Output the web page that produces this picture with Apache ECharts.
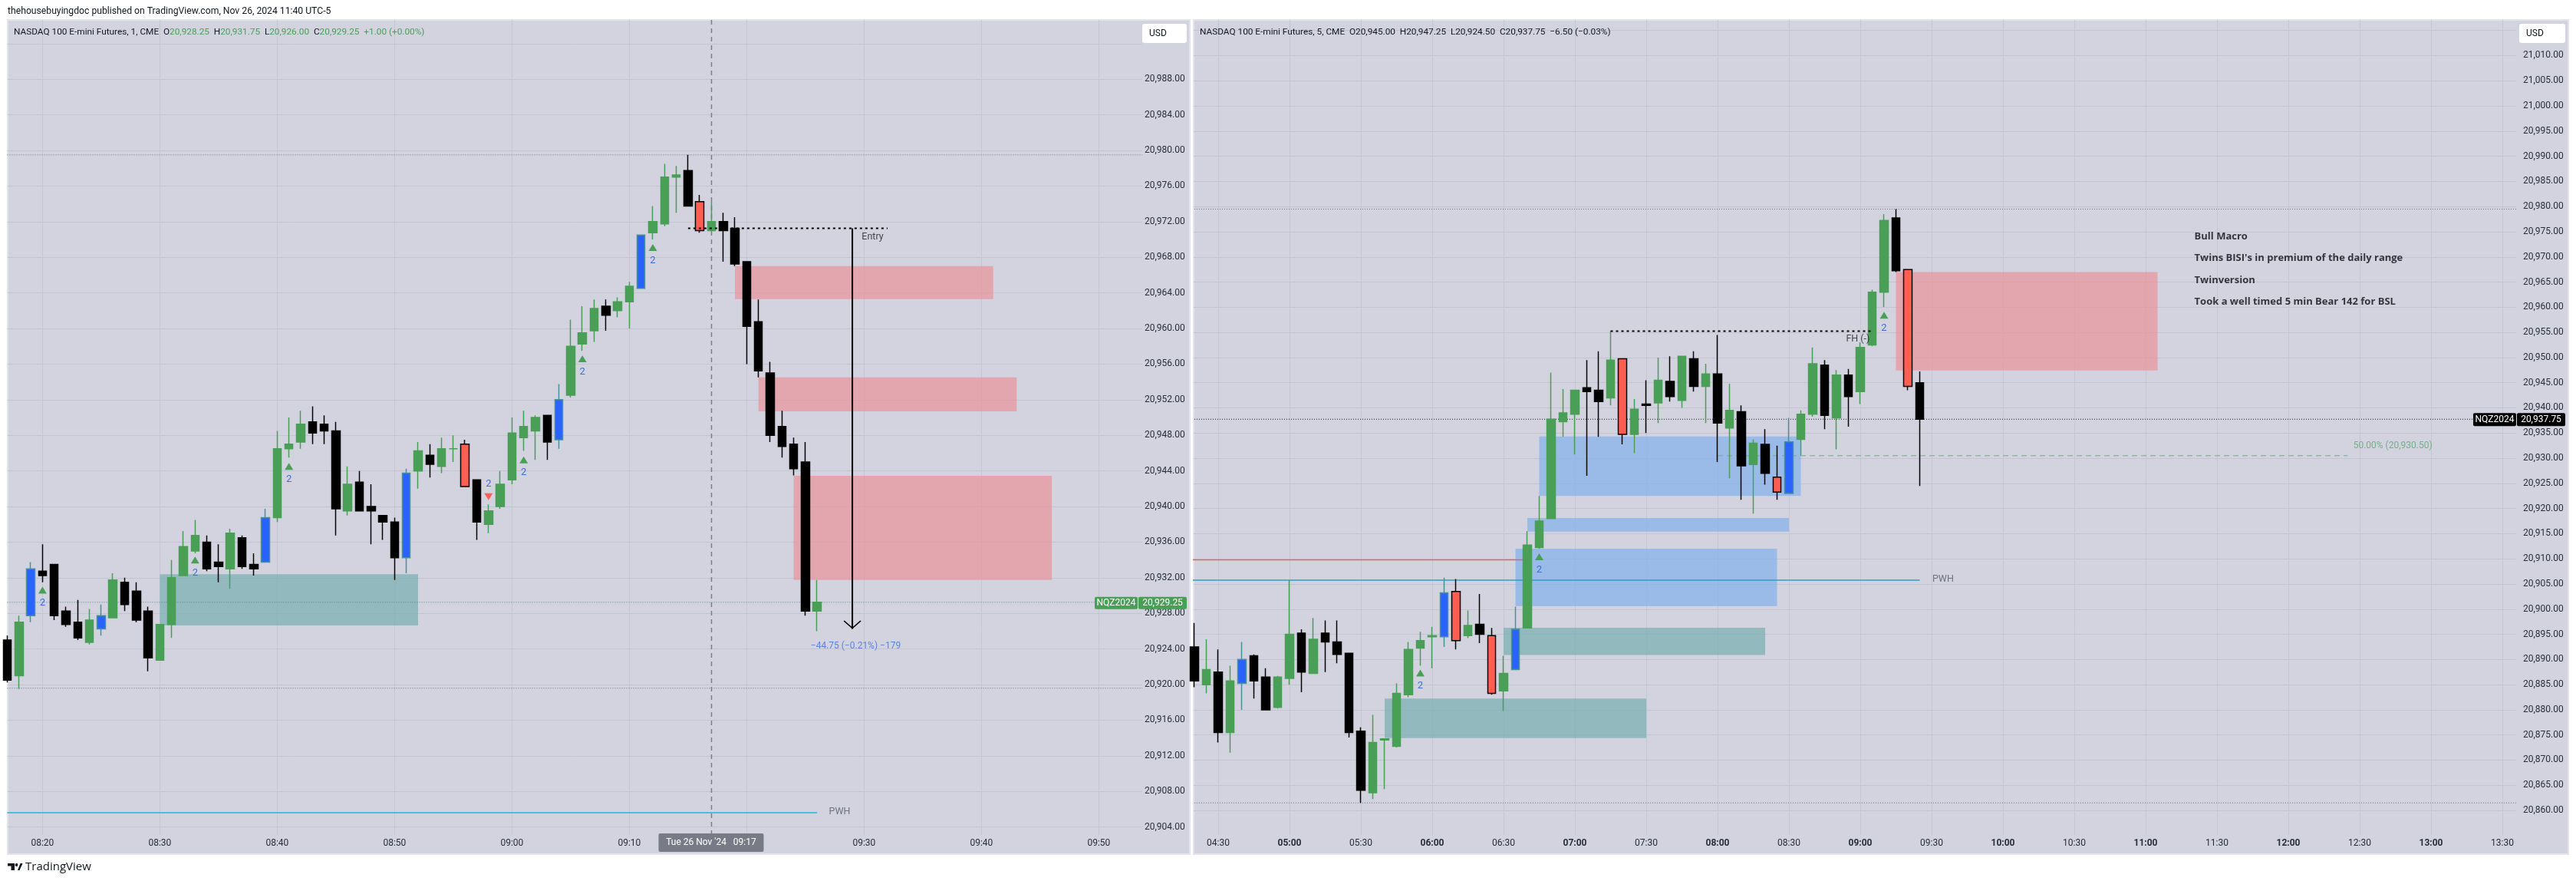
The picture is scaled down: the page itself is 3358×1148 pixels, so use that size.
<!DOCTYPE html>
<html>
<head>
<meta charset="utf-8">
<style>html,body{margin:0;padding:0;background:#fff}#chart{width:3358px;height:1148px}</style>
<script src="https://cdn.jsdelivr.net/npm/echarts@6/dist/echarts.min.js"></script>
</head>
<body>
<div id="chart"></div>
<script>
// 1 minute chart, one bar per minute starting at 08:17 (minute 497 of the day)
const leftFirstMinute = 497
const leftKinds = 'k g b k k k k g b g k k k g g g g k k g k k b g g g k k k g k k k k b g k g g r k g g g g g k b g g g k g g b g g g k r g k k k k k k k k g'.split(' ')
const leftOpen = [20925,20921,20927.75,20932.75,20933.5,20928.25,20927,20924.75,20926.25,20927.5,20931.5,20930.5,20928.25,20922.75,20926.75,20932.25,20935,20936,20933.75,20933,20936.5,20933.5,20933.75,20938.75,20946.5,20947.25,20949.5,20949.25,20948.5,20939.5,20942.75,20940,20939,20938.25,20934.25,20944,20945.75,20944.5,20946.5,20947,20943,20938,20940,20943,20947.75,20948.5,20950.25,20947.5,20952.5,20958.25,20959.75,20962.5,20962,20963,20964.5,20970.75,20971.75,20977,20977.75,20974.25,20971,20972,20971.25,20967.5,20960.75,20955,20949,20947,20945,20928.25]
const leftClose = [20920.5,20927,20933,20932.25,20927.75,20926.75,20925.25,20927.25,20927.75,20931.75,20929,20927.25,20923,20926.75,20932,20935.5,20936.75,20933,20933.25,20937,20933.25,20933,20938.75,20946.5,20947,20949.25,20948.25,20948.5,20939.75,20942.5,20939.5,20939.5,20938.25,20934.25,20943.75,20946.25,20944.75,20946.5,20946.5,20942.25,20938.25,20939.5,20942.5,20948.25,20949,20950,20947.25,20952,20958,20959.5,20962.25,20961.5,20963,20964.75,20970.5,20972,20977,20977.25,20973.75,20971,20972,20971,20967.25,20960.25,20955.25,20948,20946.75,20944.25,20928.25,20929.25]
const leftHigh = [20925.5,20927.75,20933.75,20935.75,20933.5,20928.75,20929.5,20928.5,20929,20932.5,20932,20931.5,20928.75,20926.75,20934,20937.25,20938.5,20936.75,20935.75,20937.5,20936.75,20934.75,20939.75,20948.5,20950,20950.75,20951.25,20950.25,20949.5,20944.5,20944,20942.5,20939,20938.75,20944.25,20947.25,20947,20947.75,20948,20947.5,20943,20940.25,20944,20950,20950.75,20950.25,20950.25,20953.75,20961,20962.5,20963.25,20963.25,20963.5,20965.25,20970.5,20973.75,20978.5,20978.25,20979.5,20975,20974.25,20973,20972.5,20967.5,20963.25,20956.25,20950.75,20947.75,20947.25,20931.75]
const leftLow = [20920.25,20919.5,20927,20931.5,20927.25,20926.5,20925,20924.5,20925.5,20927.5,20928.25,20927,20921.5,20922.75,20925.25,20932.25,20934.75,20932.75,20931.5,20930.75,20933,20932.25,20933.75,20938.25,20945.5,20946.5,20947,20947,20936.75,20939,20939.5,20935.75,20936.25,20931.75,20932.5,20942,20943.25,20943.75,20945,20942.25,20936.25,20937,20939.75,20942.5,20946.25,20945.25,20945.25,20946.5,20952.25,20957.5,20958.5,20959.75,20961.25,20960,20964.5,20970,20971.5,20973,20973.75,20970.75,20971,20967.5,20967,20956,20954.5,20947.25,20945.5,20943.5,20927.75,20926]

// 5 minute chart, one bar every 5 minutes starting at 04:20 (minute 260 of the day)
const rightFirstMinute = 260
const rightKinds = 'k g k g b k k g g k g k k k k g g g g g g b r g k r g b g g g g g k k g r g k g k g k g k g k g k r b g g k g k g g g k r k'.split(' ')
const rightOpen = [20892.5,20885,20887.5,20875.5,20885.25,20890.75,20886.5,20880.5,20886.25,20895.25,20887.25,20895.25,20893.5,20891.25,20875.75,20863.5,20874,20872.75,20883,20892.25,20894.5,20894.5,20903.5,20894.75,20897,20894.75,20883.75,20888,20896.25,20912.25,20918,20937.25,20938.75,20944,20943.5,20942,20949.75,20934.75,20940.75,20941,20945.25,20941.5,20949.75,20944.25,20946.75,20936,20939.25,20928.75,20932.75,20926.25,20923,20933.75,20938.75,20948.5,20938,20946.5,20943.25,20952.5,20963,20977.75,20967.5,20945]
const rightClose = [20885.75,20888,20875.5,20885.75,20890,20885.75,20880,20886.5,20895,20887.5,20894,20893.5,20891,20875.5,20864,20873.5,20874.25,20883.25,20892,20893.75,20894.75,20903.25,20893.75,20896.75,20895,20883.25,20887.25,20896,20912.75,20917.5,20937.75,20939,20943.5,20943.25,20941.25,20949.5,20934.75,20939.75,20940.5,20945.5,20942.25,20950.25,20944.25,20946.75,20937,20939.5,20928.5,20933,20927,20923.25,20933.25,20938.75,20948.75,20938.5,20946.5,20942.25,20952,20963,20977.25,20967.25,20944.25,20937.75]
const rightHigh = [20897.25,20894,20892,20888.75,20893.5,20891,20888.25,20886.75,20905.75,20896,20898.25,20897.75,20897.75,20891.25,20876.5,20879,20874.25,20885.25,20893.5,20895.5,20896.5,20906.25,20906,20899.75,20903,20896.25,20890.75,20900.5,20915.5,20922.5,20947,20943.75,20943.5,20949.5,20951.25,20955.25,20949.75,20941.75,20945.5,20950,20950.25,20950.25,20951.25,20948.75,20954.5,20944.75,20940.5,20933.75,20935.75,20932.5,20938,20939.5,20952,20949.5,20947.5,20947.75,20953,20963.5,20978.5,20979.5,20967.5,20947.25]
const rightLow = [20884.5,20883.25,20873.5,20871.5,20880,20882.25,20880,20880.25,20885,20883.5,20887.25,20887.5,20889.25,20874.5,20861.5,20862.25,20864.25,20872.5,20882.5,20888.75,20888.25,20892.5,20892,20894.25,20893.25,20883,20879.75,20888,20896.25,20912,20918,20934.25,20930.75,20926.5,20934.25,20940.5,20932.75,20931,20935,20937,20941.25,20940,20943.25,20937,20929.25,20926,20921.75,20919,20924.75,20921.75,20923,20930.5,20938.25,20935.75,20931.75,20936.25,20940.75,20952.25,20960,20967,20943.5,20924.5]

// axis ticks
const leftTimeTicks = [500,510,520,530,540,550,560,570,580,590]
const leftTimeLabels = [500,510,520,530,540,550,570,580,590]
const rightTimeTicks = [270,300,330,360,390,420,450,480,510,540,570,600,630,660,690,720,750,780,810]
const leftPriceTicks = [20904,20908,20912,20916,20920,20924,20928,20932,20936,20940,20944,20948,20952,20956,20960,20964,20968,20972,20976,20980,20984,20988]
const leftPriceLines = leftPriceTicks.concat([20992])
const rightPriceTicks = [20860,20865,20870,20875,20880,20885,20890,20895,20900,20905,20910,20915,20920,20925,20930,20935,20940,20945,20950,20955,20960,20965,20970,20975,20980,20985,20990,20995,21000,21005,21010]
const rightPriceLines = rightPriceTicks.concat([21015])

// zones: [from minute, to minute, top price, bottom price, kind]
const leftZones = [
  [510,532,20932.4,20926.65,'teal'],
  [559,581,20967,20963.3,'red'],
  [561,583,20954.5,20950.7,'red'],
  [564,586,20943.45,20931.75,'red']
]
const rightZones = [
  [340,450,20882.25,20874.4,'teal'],
  [390,500,20896.3,20890.9,'teal'],
  [395,505,20912,20900.6,'blue'],
  [400,510,20918.1,20915.4,'blue'],
  [405,515,20934.3,20922.5,'blue'],
  [555,665,20967,20947.45,'red']
]

// levels: [from minute, to minute, price, kind]
const leftLevels = [
  [497,593.7,20979.5,'gray'],
  [497,589.6,20929.25,'last'],
  [497,593.7,20919.6,'gray'],
  [497,566,20905.6,'cyan'],
  [555,572,20971.25,'entry']
]
const rightLevels = [
  [259,815.8,20979.5,'gray'],
  [259,797.6,20937.75,'thinBlack'],
  [259,815.8,20861.5,'gray'],
  [259,400,20909.8,'red'],
  [259,565,20905.75,'teal'],
  [435,545,20955.25,'entry'],
  [480,745,20930.5,'half']
]

// signal marks: [minute, price]
const leftUpMarks = [[500,20930.6],[513,20934],[521,20944.5],[541,20945.25],[546,20956.6],[552,20969.1]]
const leftDownMarks = [[538,20941.1]]
const rightUpMarks = [[355,20887.3],[405,20910.4],[550,20958.4]]

// measure arrow and crosshair
const leftArrow = [[569,20971.25],[569,20926.25]]
const leftCrosshairMinute = 557

// notes: [text, minute, price, kind]
const leftNotes = [
  ['Entry',569.8,20970.3,'dark'],
  ['PWH',567,20905.7,'grey'],
  ['\u221244.75 (\u22120.21%) \u2212179',565.45,20924.3,'measure']
]
const rightNotes = [
  ['FH (-)',534,20953.7,'dark'],
  ['PWH',570.3,20905.9,'grey'],
  ['50.00% (20,930.50)',747.3,20932.4,'halfNote'],
  ['Bull Macro',680.5,20974,'bold'],
  ["Twins BISI's in premium of the daily range",680.5,20969.7,'bold'],
  ['Twinversion',680.5,20965.4,'bold'],
  ['Took a well timed 5 min Bear 142 for BSL',680.5,20961.1,'bold']
]

const FONT = 'Roboto'
const GREEN = '#4a9f56'
const kindStyle = {
  g: {fill: GREEN, edge: GREEN},
  k: {fill: '#000000', edge: '#000000'},
  b: {fill: '#2962ff', edge: '#4a8f9a'},
  r: {fill: '#ff5f52', edge: '#000000'}
}
const zoneColors = {
  teal: 'rgba(120,174,177,0.72)',
  red: 'rgba(233,148,156,0.72)',
  blue: 'rgba(131,177,236,0.72)'
}
const levelStyles = {
  gray: {color: '#6f717c', width: 1, type: [1, 2], z: 1},
  last: {color: '#4f8a78', width: 1, type: [1, 2], z: 1},
  cyan: {color: '#25b4d8', width: 1.5, type: 'solid', z: 1},
  teal: {color: '#2f9fc4', width: 1.5, type: 'solid', z: 1},
  red: {color: '#e8655f', width: 1.5, type: 'solid', z: 1},
  entry: {color: '#000000', width: 2, type: [3, 4], z: 3},
  thinBlack: {color: '#111111', width: 1, type: [1, 2], z: 1},
  half: {color: '#7aa88a', width: 1, type: [7, 5], z: 1}
}
const noteStyles = {
  dark: {color: '#222222', fontSize: 12.5},
  grey: {color: '#555a66', fontSize: 12.5},
  measure: {color: '#3f6fd8', fontSize: 12},
  halfNote: {color: '#5fa56f', fontSize: 12},
  bold: {color: '#0b0b12', fontSize: 13, fontWeight: 'bold', fontFamily: 'Open Sans'}
}

function hhmm(minute) {
  const h = Math.floor(minute / 60)
  const m = minute % 60
  return String(h).padStart(2, '0') + ':' + String(m).padStart(2, '0')
}
function price(v) {
  return v.toLocaleString('en-US', {minimumFractionDigits: 2, maximumFractionDigits: 2})
}

function candleSeries(axis, first, step, kinds, open, close, low, high, width) {
  const data = kinds.map((kind, i) => {
    const s = kindStyle[kind]
    return {
      value: [first + i * step, open[i], close[i], low[i], high[i]],
      itemStyle: {color: s.fill, color0: s.fill, borderColor: s.edge, borderColor0: s.edge, borderColorDoji: s.edge}
    }
  })
  return {
    type: 'candlestick', xAxisIndex: axis, yAxisIndex: axis, z: 2, barWidth: width,
    itemStyle: {borderWidth: 1.5}, encode: {x: 0, y: [1, 2, 3, 4]}, data
  }
}

function zoneSeries(axis, zones) {
  return {
    type: 'line', xAxisIndex: axis, yAxisIndex: axis, z: 1, data: [], silent: true,
    markArea: {
      silent: true, z: 1,
      data: zones.map(z => [
        {coord: [z[0], z[2]], itemStyle: {color: zoneColors[z[4]]}},
        {coord: [z[1], z[3]]}
      ])
    }
  }
}

function levelSeries(axis, levels) {
  return levels.map(l => {
    const s = levelStyles[l[3]]
    return {
      type: 'line', xAxisIndex: axis, yAxisIndex: axis, z: s.z, symbol: 'none', silent: true,
      lineStyle: {color: s.color, width: s.width, type: s.type},
      data: [[l[0], l[2]], [l[1], l[2]]]
    }
  })
}

function markSeries(axis, marks, up) {
  return {
    type: 'scatter', xAxisIndex: axis, yAxisIndex: axis, z: 4, silent: true,
    symbol: 'triangle', symbolSize: [11, 9], symbolRotate: up ? 0 : 180,
    itemStyle: {color: up ? GREEN : '#ff5f52', opacity: 1},
    label: {
      show: true, formatter: '2', position: up ? 'bottom' : 'top', distance: 6,
      color: '#3f6fd8', fontSize: 13, fontFamily: FONT
    },
    data: marks
  }
}

function noteSeries(axis, notes) {
  return {
    type: 'scatter', xAxisIndex: axis, yAxisIndex: axis, z: 5, silent: true, symbolSize: 0,
    data: notes.map(n => ({
      value: [n[1], n[2]],
      label: Object.assign({
        show: true, formatter: n[0], position: 'right', distance: 0, fontFamily: FONT
      }, noteStyles[n[3]])
    }))
  }
}

function timeAxis(index, min, max, ticks, labels, boldHours) {
  return {
    type: 'value', gridIndex: index, min, max,
    axisLine: {show: false},
    axisTick: {show: false, customValues: ticks},
    splitLine: {show: true, lineStyle: {color: '#c5c6d3', width: 1}},
    axisLabel: {
      customValues: labels, margin: 5, color: '#2a2e39', fontSize: 12, fontFamily: FONT,
      formatter: v => (boldHours && v % 60 === 0) ? '{b|' + hhmm(v) + '}' : hhmm(v),
      rich: {b: {fontWeight: 'bold', fontSize: 12, color: '#2a2e39', fontFamily: FONT}}
    }
  }
}

function priceAxis(index, min, max, lines, labels, margin) {
  return {
    type: 'value', gridIndex: index, position: 'right', min, max,
    axisLine: {show: false},
    axisTick: {show: false, customValues: lines},
    splitLine: {show: true, lineStyle: {color: '#c3c4d1', width: 1}},
    axisLabel: {
      customValues: labels, margin, color: '#2a2e39', fontSize: 12, fontFamily: FONT,
      formatter: v => price(v)
    }
  }
}

const series = [
  zoneSeries(0, leftZones),
  zoneSeries(1, rightZones),
  ...levelSeries(0, leftLevels),
  ...levelSeries(1, rightLevels),
  {
    type: 'line', xAxisIndex: 0, yAxisIndex: 0, z: 1, symbol: 'none', silent: true,
    lineStyle: {color: '#7b7d88', width: 1.5, type: [6, 5]},
    data: [[leftCrosshairMinute, 20903.11], [leftCrosshairMinute, 20994.66]]
  },
  candleSeries(0, leftFirstMinute, 1, leftKinds, leftOpen, leftClose, leftLow, leftHigh, 11),
  candleSeries(1, rightFirstMinute, 5, rightKinds, rightOpen, rightClose, rightLow, rightHigh, 11),
  {
    type: 'line', xAxisIndex: 0, yAxisIndex: 0, z: 3, symbol: 'none', silent: true,
    lineStyle: {color: '#000000', width: 2},
    data: leftArrow
  },
  {
    type: 'scatter', xAxisIndex: 0, yAxisIndex: 0, z: 4, silent: true,
    symbol: 'path://M0,1 L10,11 L20,1 L19,0 L10,9 L1,0 Z', symbolSize: [23, 11], symbolOffset: [0, '-50%'],
    itemStyle: {color: '#000000', opacity: 1},
    data: [leftArrow[1]]
  },
  markSeries(0, leftUpMarks, true),
  markSeries(0, leftDownMarks, false),
  markSeries(1, rightUpMarks, true),
  noteSeries(0, leftNotes),
  noteSeries(1, rightNotes)
]

const chart = echarts.init(document.getElementById('chart'), null, {renderer: 'canvas'})
chart.setOption({
  animation: false,
  backgroundColor: '#ffffff',
  grid: [
    {left: 10, top: 26, width: 1479, height: 1062},
    {left: 1556, top: 26, width: 1724, height: 1062}
  ],
  xAxis: [
    timeAxis(0, 497.033, 593.7, leftTimeTicks, leftTimeLabels, false),
    timeAxis(1, 259.68, 815.8, rightTimeTicks, rightTimeTicks, true)
  ],
  yAxis: [
    priceAxis(0, 20903.11, 20994.66, leftPriceLines, leftPriceTicks, 3),
    priceAxis(1, 20855.13, 21017.09, rightPriceLines, rightPriceTicks, 9)
  ],
  series
})

// page chrome and the price / time tags, placed through the axes
const panelFill = '#d2d3df'
const panelEdge = '#e3e3e9'
const headText = {fontSize: 11.8, fontFamily: FONT, fill: '#131722'}
function tag(x, y, w, h, fill, text, radius) {
  return [
    {type: 'rect', z: 20, shape: {x, y, width: w, height: h, r: radius || 0}, style: {fill}},
    {type: 'text', z: 21, x: x + w / 2, y: y + h / 2, style: {text, fill: '#ffffff', fontSize: 12, fontFamily: FONT, align: 'center', verticalAlign: 'middle'}}
  ]
}
const leftLast = chart.convertToPixel({xAxisIndex: 0, yAxisIndex: 0}, [leftCrosshairMinute, 20929.25])
const rightLast = chart.convertToPixel({xAxisIndex: 1, yAxisIndex: 1}, [600, 20937.75])

chart.setOption({
  graphic: [
    {type: 'rect', z: -20, shape: {x: 10, y: 26, width: 1541, height: 1087}, style: {fill: panelFill, stroke: panelEdge, lineWidth: 2}},
    {type: 'rect', z: -20, shape: {x: 1556, y: 26, width: 1792, height: 1087}, style: {fill: panelFill, stroke: panelEdge, lineWidth: 2}},
    {type: 'text', z: 20, x: 10, y: 15, style: {text: 'thehousebuyingdoc published on TradingView.com, Nov 26, 2024 11:40 UTC-5', fontSize: 12.2, fontFamily: FONT, fill: '#131722', verticalAlign: 'middle'}},
    {type: 'text', z: 20, x: 18, y: 42, style: Object.assign({}, headText, {
      verticalAlign: 'middle',
      text: 'NASDAQ 100 E-mini Futures, 1, CME  O{g|20,928.25}  H{g|20,931.75}  L{g|20,926.00}  C{g|20,929.25}  {g|+1.00 (+0.00%)}',
      rich: {g: {fill: '#4a9f56', fontSize: 11.8, fontFamily: FONT}}
    })},
    {type: 'text', z: 20, x: 1564, y: 42, style: Object.assign({}, headText, {
      verticalAlign: 'middle',
      text: 'NASDAQ 100 E-mini Futures, 5, CME  O20,945.00  H20,947.25  L20,924.50  C20,937.75  \u22126.50 (\u22120.03%)'
    })},
    {type: 'rect', z: 20, shape: {x: 1489, y: 31, width: 58, height: 25, r: 3}, style: {fill: '#ffffff'}},
    {type: 'text', z: 21, x: 1498, y: 44, style: {text: 'USD', fontSize: 12, fontFamily: FONT, fill: '#131722', verticalAlign: 'middle'}},
    {type: 'rect', z: 20, shape: {x: 3284, y: 31, width: 60, height: 25, r: 3}, style: {fill: '#ffffff'}},
    {type: 'text', z: 21, x: 3293, y: 44, style: {text: 'USD', fontSize: 12, fontFamily: FONT, fill: '#131722', verticalAlign: 'middle'}},
    ...tag(1427, leftLast[1] - 7, 56, 16, GREEN, 'NQZ2024', 2),
    ...tag(1484, leftLast[1] - 7, 63, 16, GREEN, price(20929.25), 2),
    ...tag(3224, rightLast[1] - 8, 56, 17, '#000000', 'NQZ2024', 2),
    ...tag(3281, rightLast[1] - 8, 63, 17, '#000000', price(20937.75), 2),
    ...tag(leftLast[0] - 69, 1086, 137, 24, '#787b86', "Tue 26 Nov '24   " + hhmm(leftCrosshairMinute), 2),
    {type: 'polygon', z: 20, shape: {points: [[10,1125],[19,1125],[19,1134],[14.5,1134],[14.5,1128.5],[10,1128.5]]}, style: {fill: '#131722'}},
    {type: 'circle', z: 20, shape: {cx: 21.5, cy: 1127, r: 1.9}, style: {fill: '#131722'}},
    {type: 'polygon', z: 20, shape: {points: [[23,1134],[26.5,1125],[29.5,1125],[25.5,1134]]}, style: {fill: '#131722'}},
    {type: 'text', z: 20, x: 33, y: 1130, style: {text: 'TradingView', fontSize: 15, fontFamily: 'Open Sans', fill: '#131722', verticalAlign: 'middle'}}
  ]
})
</script>
</body>
</html>
